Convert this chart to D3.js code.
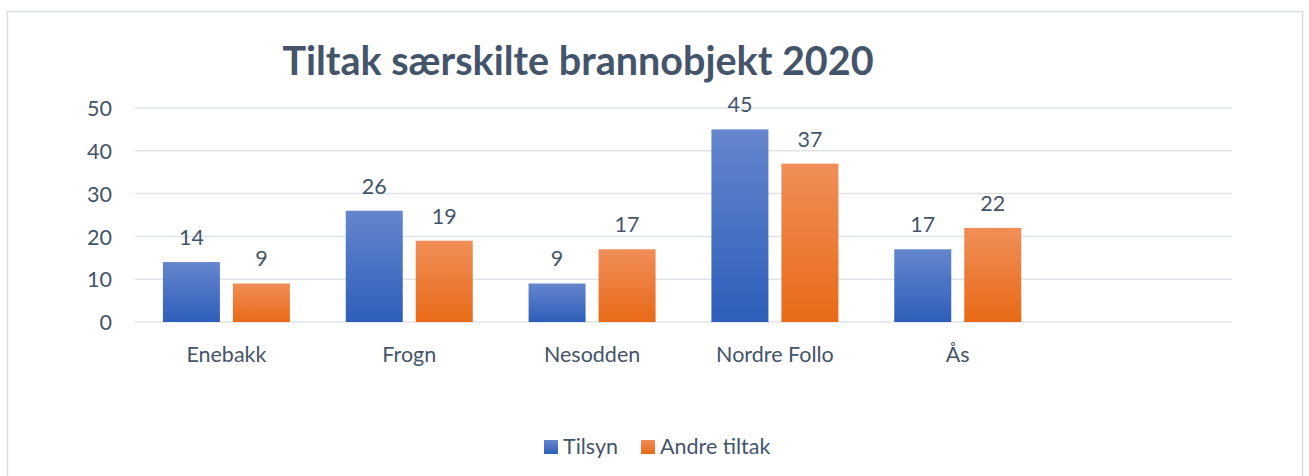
<!DOCTYPE html>
<html><head><meta charset="utf-8">
<script src="https://cdn.jsdelivr.net/npm/d3@7"></script>
<style>body{margin:0;background:#fff}svg{display:block}text{font-family:Lato,"Open Sans",sans-serif;fill:#44546a}</style>
</head><body>
<svg id="c" width="1309" height="476"></svg>
<script>
const categories = ["Enebakk","Frogn","Nesodden","Nordre Follo","Ås",""];
const tilsyn = [14,26,9,45,17,null];
const andreTiltak = [9,19,17,37,22,null];
const seriesNames = ["Tilsyn","Andre tiltak"];
const yTicks = [0,10,20,30,40,50];
const title = "Tiltak særskilte brannobjekt 2020";

const svg = d3.select("#c");
const defs = svg.append("defs");
function grad(id, top, bot){
  const g = defs.append("linearGradient").attr("id",id).attr("x1",0).attr("y1",0).attr("x2",0).attr("y2",1);
  g.append("stop").attr("offset","0%").attr("stop-color",top);
  g.append("stop").attr("offset","100%").attr("stop-color",bot);
}
grad("gBlue","#6586cd","#2e5eba");
grad("gOrange","#f08e58","#e86a17");
const fills = ["url(#gBlue)","url(#gOrange)"];
const fs = "21.5px";

svg.append("rect").attr("x",7.5).attr("y",11.5).attr("width",1295).attr("height",480)
  .attr("fill","#fff").attr("stroke","#d9dde3").attr("stroke-width",1.5);

const x = d3.scaleBand().domain(categories.map((c,i)=>i)).range([135,1232]);
const y = d3.scaleLinear().domain([0,50]).range([322,108]);

const g = svg.append("g");
g.selectAll(".grid").data(yTicks).enter().append("line")
  .attr("x1",135).attr("x2",1232).attr("y1",d=>y(d)).attr("y2",d=>y(d))
  .attr("stroke","#dfe3e8").attr("stroke-width",1.5);

const yAxis = d3.axisLeft(y).tickValues(yTicks).tickSize(0).tickPadding(23);
const ya = g.append("g").attr("transform","translate(135,0)").call(yAxis);
ya.select(".domain").remove();
ya.selectAll("text").style("font-size",fs).attr("fill","#44546a").style("font-family","Lato").attr("dy","0.36em");

const xAxis = d3.axisBottom(x).tickSize(0).tickPadding(25).tickFormat(i=>categories[i]);
const xa = g.append("g").attr("transform","translate(0,322)").call(xAxis);
xa.select(".domain").remove();
xa.selectAll("text").style("font-size",fs).attr("fill","#44546a").style("font-family","Lato");

const barW = 57, gap = 13;
const series = [tilsyn, andreTiltak];
series.forEach((vals,s)=>{
  const data = vals.map((v,i)=>({v,i})).filter(d=>d.v!=null);
  const off = s===0 ? -(gap/2+barW) : gap/2;
  g.selectAll(".b"+s).data(data).enter().append("rect")
    .attr("x",d=>x(d.i)+x.bandwidth()/2+off).attr("width",barW)
    .attr("y",d=>y(d.v)).attr("height",d=>y(0)-y(d.v)).attr("fill",fills[s]);
  g.selectAll(".l"+s).data(data).enter().append("text")
    .attr("x",d=>x(d.i)+x.bandwidth()/2+off+barW/2).attr("y",d=>y(d.v)-17)
    .attr("text-anchor","middle").style("font-size",fs).text(d=>d.v);
});

svg.append("text").attr("x",578).attr("y",75).attr("text-anchor","middle")
  .style("font-size","39.5px").style("font-weight","bold").text(title);

const leg = svg.append("g");
const legX = [544,641];
seriesNames.forEach((n,i)=>{
  leg.append("rect").attr("x",legX[i]).attr("y",440).attr("width",14).attr("height",14).attr("fill",fills[i]);
  leg.append("text").attr("x",legX[i]+19).attr("y",454).style("font-size",fs).text(n);
});
</script>
</body></html>
